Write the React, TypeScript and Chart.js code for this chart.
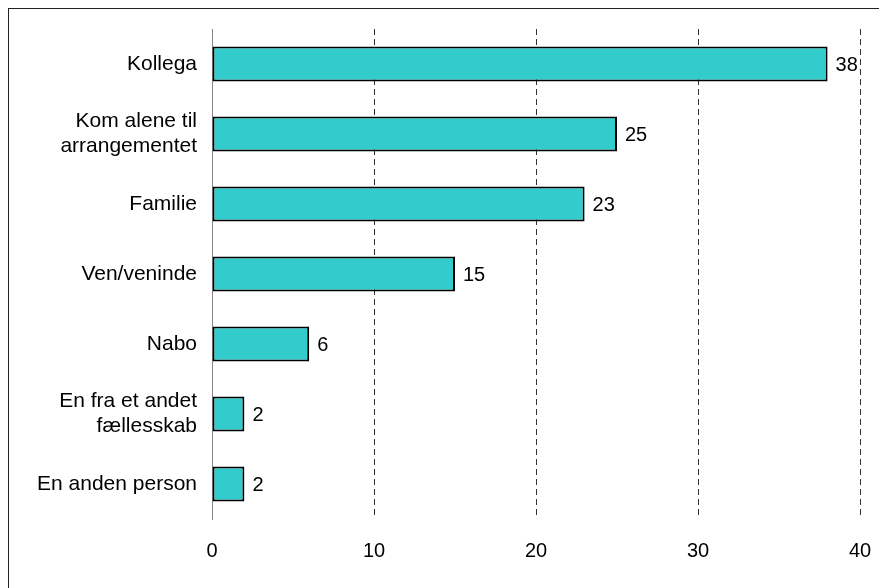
import React, { useEffect, useRef } from "react";
import { Chart, registerables } from "chart.js";

Chart.register(...registerables);

const categories: (string | string[])[] = [
  "Kollega",
  ["Kom alene til", "arrangementet"],
  "Familie",
  "Ven/veninde",
  "Nabo",
  ["En fra et andet", "fællesskab"],
  "En anden person",
];
const values: number[] = [38, 25, 23, 15, 6, 2, 2];
const axisMin = 0;
const axisMax = 40;
const axisStep = 10;

const FONT = "'Liberation Sans', Arial, Helvetica, sans-serif";

const valueLabels = {
  id: "valueLabels",
  afterDatasetsDraw(chart: any) {
    const ctx = chart.ctx;
    const meta = chart.getDatasetMeta(0);
    ctx.save();
    ctx.font = `20px ${FONT}`;
    ctx.fillStyle = "#000";
    ctx.textAlign = "left";
    ctx.textBaseline = "middle";
    meta.data.forEach((bar: any, i: number) => {
      ctx.fillText(String(values[i]), bar.x + 8, bar.y + 1);
    });
    ctx.restore();
  },
};

export default function App() {
  const ref = useRef<HTMLCanvasElement | null>(null);
  useEffect(() => {
    if (!ref.current) return;
    const chart = new Chart(ref.current, {
      type: "bar",
      data: {
        labels: categories,
        datasets: [
          {
            data: values,
            backgroundColor: "#33CCCC",
            borderColor: "#000",
            borderWidth: 2,
            borderSkipped: false,
            barPercentage: 0.5,
            categoryPercentage: 1,
          },
        ],
      },
      options: {
        indexAxis: "y",
        animation: false,
        responsive: false,
        maintainAspectRatio: false,
        layout: { padding: { top: 20, right: 27, bottom: 0, left: 0 } },
        plugins: {
          legend: { display: false },
          tooltip: { enabled: false },
        },
        scales: {
          x: {
            min: axisMin,
            max: axisMax,
            ticks: {
              stepSize: axisStep,
              color: "#000",
              font: { family: FONT, size: 20 },
              padding: 20,
            },
            grid: {
              drawTicks: false,
              color: (c: any) =>
                c.tick && c.tick.value === 0 ? "rgba(0,0,0,0)" : "#333",
              lineWidth: 1,
            },
            border: { display: false, dash: [6, 4] },
            afterFit: (s: any) => {
              s.height = 69;
              s.paddingLeft = 0;
              s.paddingRight = 0;
            },
          },
          y: {
            ticks: {
              color: "#000",
              font: { family: FONT, size: 21, lineHeight: 1.2 },
              padding: 15,
            },
            grid: { display: false, drawTicks: false },
            border: { display: true, color: "#888", width: 1 },
            afterFit: (s: any) => {
              s.width = 203;
              s.paddingTop = 0;
              s.paddingBottom = 0;
            },
          },
        },
      },
      plugins: [valueLabels],
    });
    return () => chart.destroy();
  }, []);
  return (
    <div
      style={{
        width: 879,
        height: 580,
        boxSizing: "border-box",
        borderTop: "1px solid #222",
        borderLeft: "1px solid #222",
        background: "#fff",
      }}
    >
      <canvas ref={ref} width={878} height={579} style={{ display: "block" }} />
    </div>
  );
}
